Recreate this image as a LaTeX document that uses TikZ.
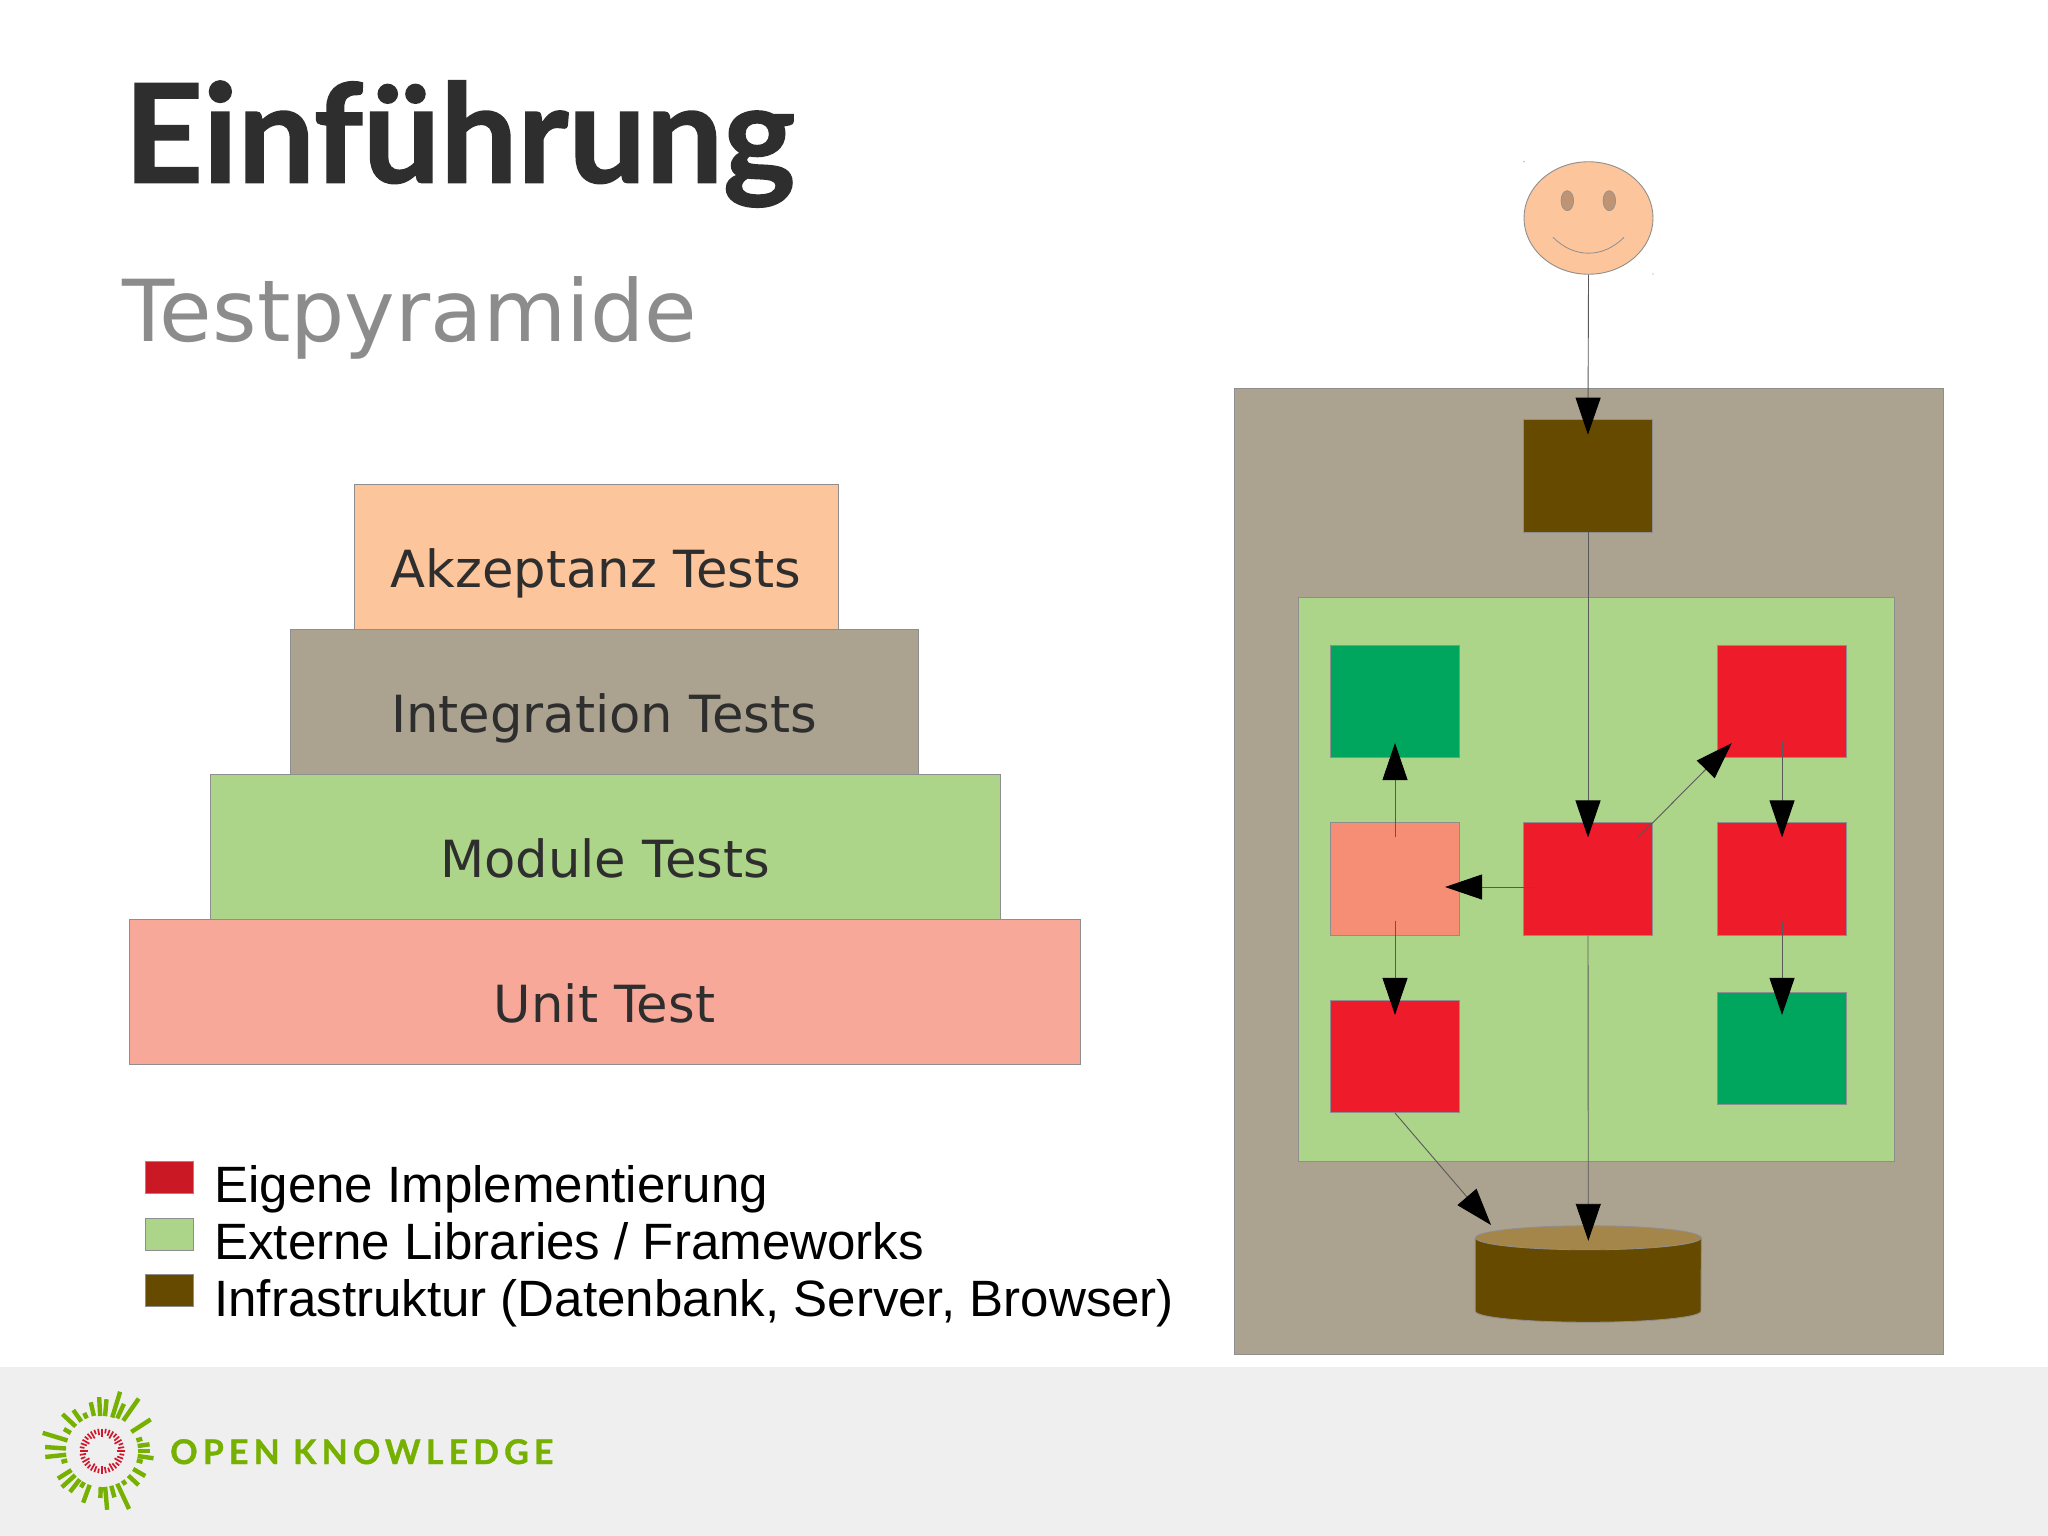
\documentclass[tikz,border=0pt]{standalone}
\usepackage{fontspec}
\setmainfont{DejaVu Sans}
\newfontfamily\titlefont[BoldFeatures={FakeBold=1.2}]{Lato}
\newfontfamily\legendfont{Liberation Sans}
\newfontfamily\logofont[LetterSpace=15,BoldFeatures={FakeBold=1}]{Lato}
\usetikzlibrary{arrows.meta,shapes.geometric}
\definecolor{peach}{HTML}{FDC59B}
\definecolor{taupe}{HTML}{ABA28F}
\definecolor{leaf}{HTML}{ADD58A}
\definecolor{salmon}{HTML}{F8A898}
\definecolor{coral}{HTML}{F58E75}
\definecolor{impl}{HTML}{EE1C2A}
\definecolor{extern}{HTML}{00A65D}
\definecolor{infra}{HTML}{664A00}
\definecolor{infratop}{HTML}{A5864A}
\definecolor{frame}{HTML}{8E8E8E}
\definecolor{okgreen}{HTML}{76B000}
\definecolor{okred}{HTML}{D0182C}
\definecolor{band}{HTML}{EFEFF0}
\tikzset{
  layer/.style={draw=frame,line width=.8pt,inner sep=0pt,minimum height=145pt,text height=60pt,text depth=0pt,text=black!82,font=\fontsize{51.2}{60}\selectfont},
  block/.style={draw=frame,line width=.6pt,inner sep=0pt,minimum width=129.5pt,minimum height=112.5pt},
  swatch/.style={draw=frame,line width=.6pt,inner sep=0pt,minimum width=48pt,minimum height=32pt},
  legendtext/.style={anchor=base west,inner sep=0pt,font=\legendfont\fontsize{51.1}{60}\selectfont},
  link/.style={draw=black!65,line width=.9pt,-{Triangle[length=37pt,width=25pt,color=black]},shorten >=-15pt,shorten <=-15pt}
}
\begin{document}
\begin{tikzpicture}[x=1pt,y=-1pt]
  \useasboundingbox (0,0) rectangle (2048,1536);
  \fill[white] (0,0) rectangle (2048,1536);
  \fill[band] (0,1367) rectangle (2048,1536);
  \node[anchor=base west,inner sep=0pt,text=black!82,font=\titlefont\bfseries\fontsize{137}{150}\selectfont] (title) at (124,182.5) {Einführung};
  \node[anchor=base west,inner sep=0pt,text=black!45,font=\fontsize{85.5}{95}\selectfont] (subtitle) at (122,341) {Testpyramide};

  \node[layer,fill=peach,minimum width=484pt] (accept) at (596,557) {Akzeptanz Tests};
  \node[layer,fill=taupe,minimum width=628pt] (integ) at (604,702) {Integration Tests};
  \node[layer,fill=leaf,minimum width=790pt] (module) at (605,847) {Module Tests};
  \node[layer,fill=salmon,minimum width=951pt] (unit) at (604.5,992) {Unit Test};

  \node[swatch,fill=impl!85!black] (keyimpl) at (169,1177.5) {};
  \node[swatch,fill=leaf] (keyext) at (169,1234) {};
  \node[swatch,fill=infra] (keyinfra) at (169,1290) {};
  \node[legendtext] (textimpl) at (214,1202.7) {Eigene Implementierung};
  \node[legendtext] (textext) at (214,1259) {Externe Libraries / Frameworks};
  \node[legendtext] (textinfra) at (214,1316.7) {Infrastruktur (Datenbank, Server, Browser)};

  \node[draw=frame,line width=.8pt,fill=taupe,inner sep=0pt,minimum width=709pt,minimum height=966pt] (server) at (1588.5,871) {};
  \node[draw=frame,line width=.8pt,fill=leaf,inner sep=0pt,minimum width=596.5pt,minimum height=564pt] (app) at (1596.2,879) {};

  \node[block,fill=infra,minimum height=113pt] (web) at (1588,475.5) {};
  \node[block,fill=extern] (libleft) at (1395,701.5) {};
  \node[block,fill=impl] (implright) at (1782,701.5) {};
  \node[block,fill=coral] (adapter) at (1395,879) {};
  \node[block,fill=impl] (implmid) at (1588,879) {};
  \node[block,fill=impl] (implside) at (1782,879) {};
  \node[block,fill=impl] (impllow) at (1395,1056.5) {};
  \node[block,fill=extern] (libright) at (1782,1048.5) {};

  \node[ellipse,draw=frame,line width=.9pt,fill=peach,inner sep=0pt,minimum width=129pt,minimum height=112.5pt] (face) at (1588.5,218) {};
  \node[ellipse,draw=frame,line width=.6pt,fill=peach!75!black,inner sep=0pt,minimum width=12.6pt,minimum height=20pt] (eyeleft) at (1567.3,200.7) {};
  \node[ellipse,draw=frame,line width=.6pt,fill=peach!75!black,inner sep=0pt,minimum width=12.6pt,minimum height=20pt] (eyeright) at (1609.3,200.7) {};
  \draw[frame,line width=.8pt] (1553,237.3) .. controls (1574,258.5) and (1603,258.5) .. (1624,237.3);
  \fill[frame] (1524,161.7) circle (.7) (1653,274) circle (.7);

  \node[inner sep=0pt,minimum width=225.6pt,minimum height=96pt] (db) at (1588.3,1274) {};
  \draw[frame,line width=.8pt,fill=infra] ([yshift=-12pt]db.north west) -- ([yshift=11pt]db.south west) arc[start angle=180,end angle=0,x radius=112.8,y radius=11] -- ([yshift=-12pt]db.north east) -- cycle;
  \draw[frame,line width=.8pt,fill=infratop] ([yshift=-12pt]db.north) ellipse[x radius=112.8,y radius=12];
  \coordinate (dbedge) at (1491,1225);

  \draw[link,shorten <=0pt,shorten >=-16pt] (face.south) -- (web.north);
  \draw[link,shorten <=0pt] (web.south) -- (implmid.north);
  \draw[link,shorten <=0pt] (implmid.south) -- (db.north);
  \draw[link,shorten <=-21pt,shorten >=-21pt] (implmid.north east) -- (implright.south west);
  \draw[link,shorten <=-16pt] ([yshift=-8pt]implmid.west) -- ([yshift=-8pt]adapter.east);
  \draw[link] (adapter.north) -- (libleft.south);
  \draw[link] (adapter.south) -- (impllow.north);
  \draw[link,shorten <=-16pt] (implright.south) -- (implside.north);
  \draw[link,shorten >=-23pt] (implside.south) -- (libright.north);
  \draw[link,shorten >=0pt,shorten <=0pt] (impllow.south) -- (dbedge);

  \node[anchor=base west,inner sep=0pt,text=okgreen,font=\logofont\bfseries\fontsize{34}{40}\selectfont] (logo) at (170,1464) {OPEN KNOWLEDGE};
  \foreach \ang/\rin/\rout in {0/36/48,-8/36/52,8/36/48,17/36/42,33/35/58,55/37/64,65/36/52,73/35/62,85/35/52,93/35/54,103/36/50,115/36/42,125/36/50,137/36/54,150/36/44,163/36/62,176/36/57,186/36/57,195/36/42,212/36/52,222/36/54,232/36/52,240/36/42,250/36/55,268/36/47,275/36/59,285/36/48,295/36/64,305/36/41,317/36/50,330/36/50,345/36/42}
    \draw[okgreen,line width=4.4pt] ([shift={(-\ang:\rin)}]102,1451) -- ([shift={(-\ang:\rout)}]102,1451);
  \foreach \ang [evaluate=\ang as \rin using {14.5+mod(\ang,30)/6}] in {0,10,...,350}
    \draw[okred,line width=1.7pt] ([shift={(-\ang:\rin)}]102,1451) -- ([shift={(-\ang:22.5)}]102,1451);
\end{tikzpicture}
\end{document}
